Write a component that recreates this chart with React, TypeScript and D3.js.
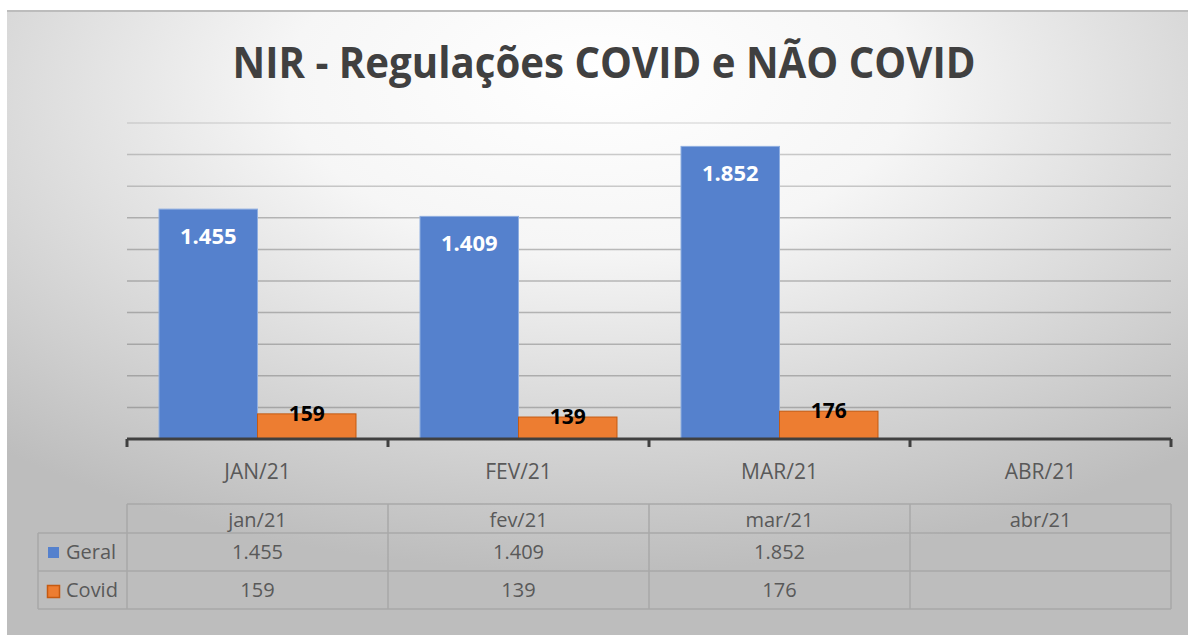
import React from "react";
import * as d3 from "d3";

const categories = ["JAN/21", "FEV/21", "MAR/21", "ABR/21"];
const tableHeaders = ["jan/21", "fev/21", "mar/21", "abr/21"];
const seriesNames = ["Geral", "Covid"];
const geralValues: (number | null)[] = [1455, 1409, 1852, null];
const covidValues: (number | null)[] = [159, 139, 176, null];
const yTicks = [200, 400, 600, 800, 1000, 1200, 1400, 1600, 1800, 2000];
const title = "NIR - Regulações COVID e NÃO COVID";

const colors: Record<string, string> = { Geral: "#5581CD", Covid: "#ED7D31" };
const strokes: Record<string, string> = { Geral: "#8FAEE0", Covid: "#C55A11" };

const fmt = (v: number | null) =>
  v == null ? "" : v >= 1000 ? d3.format(",")(v).replace(/,/g, ".") : String(v);

const FONT = "'Open Sans', 'DejaVu Sans', sans-serif";

export default function App() {
  const W = 1188;
  const H = 635;
  const left = 127;
  const right = 1171;
  const x = d3.scaleBand<string>().domain(categories).range([left, right]).paddingInner(0).paddingOuter(0);
  const xs = d3.scaleBand<string>().domain(seriesNames).range([0, x.bandwidth()]).paddingInner(0).paddingOuter(0.325);
  const y = d3.scaleLinear().domain([0, 2000]).range([439, 123]);
  const series: Record<string, (number | null)[]> = { Geral: geralValues, Covid: covidValues };

  const tTop = 504;
  const tHead = 533;
  const tRow1 = 571;
  const tRow2 = 609;
  const legendLeft = 38;
  const borderColor = "#A9A9A9";
  const textColor = "#595959";

  const boundaries = [...categories.map((c) => x(c) as number), right];

  return (
    <svg width={W} height={H} style={{ position: "fixed", left: 0, top: 0 }} fontFamily={FONT}>
      <defs>
        <radialGradient id="bg" cx="0.5" cy="0.15" r="0.75" fx="0.5" fy="0.1">
          <stop offset="0" stopColor="#ffffff" />
          <stop offset="0.35" stopColor="#f6f6f6" />
          <stop offset="1" stopColor="#bdbdbd" />
        </radialGradient>
      </defs>
      <rect x={0} y={0} width={W} height={H} fill="#ffffff" />
      <rect x={7} y={10} width={W - 7} height={H - 10} fill="url(#bg)" />
      <line x1={7} x2={W} y1={11} y2={11} stroke="#bcbcbc" strokeWidth={2} />

      <text
        x={(left + right) / 2 - 45}
        y={78}
        textAnchor="middle"
        fontSize={43}
        fontWeight={700}
        fill="#404040"
        textLength={743}
        lengthAdjust="spacingAndGlyphs"
      >
        {title}
      </text>

      {yTicks.map((t) => (
        <line
          key={t}
          x1={left}
          x2={right}
          y1={y(t)}
          y2={y(t)}
          stroke="#6f6f6f"
          strokeOpacity={t === 2000 ? 0.2 : t >= 1600 ? 0.35 : 0.45}
          strokeWidth={1.5}
        />
      ))}

      {categories.map((c, i) =>
        seriesNames.map((s) => {
          const v = series[s][i];
          if (v == null) return null;
          const bx = (x(c) as number) + (xs(s) as number);
          const bw = xs.bandwidth();
          return (
            <g key={c + s}>
              <rect
                x={bx}
                y={y(v)}
                width={bw}
                height={y(0) - y(v)}
                fill={colors[s]}
                stroke={strokes[s]}
                strokeWidth={1}
              />
              {s === "Geral" ? (
                <text x={bx + bw / 2} y={y(v) + 35} textAnchor="middle" fontSize={22} fontWeight={700} fill="#ffffff">
                  {fmt(v)}
                </text>
              ) : (
                <text x={bx + bw / 2} y={y(v) + 7} textAnchor="middle" fontSize={21} fontWeight={700} fill="#000000">
                  {fmt(v)}
                </text>
              )}
            </g>
          );
        })
      )}

      <line x1={left} x2={right} y1={y(0)} y2={y(0)} stroke="#404040" strokeWidth={3} />
      {boundaries.map((bx, i) => (
        <line key={i} x1={bx} x2={bx} y1={y(0)} y2={y(0) + 8} stroke="#404040" strokeWidth={3} />
      ))}

      {categories.map((c) => (
        <text
          key={c}
          x={(x(c) as number) + x.bandwidth() / 2}
          y={479}
          textAnchor="middle"
          fontSize={21}
          fill={textColor}
        >
          {c}
        </text>
      ))}

      {/* data table */}
      <g fill="none" stroke={borderColor} strokeWidth={1.5}>
        <line x1={left} x2={right} y1={tTop} y2={tTop} />
        <line x1={legendLeft} x2={right} y1={tHead} y2={tHead} />
        <line x1={legendLeft} x2={right} y1={tRow1} y2={tRow1} />
        <line x1={legendLeft} x2={right} y1={tRow2} y2={tRow2} />
        <line x1={legendLeft} x2={legendLeft} y1={tHead} y2={tRow2} />
        {boundaries.map((bx, i) => (
          <line key={i} x1={bx} x2={bx} y1={tTop} y2={tRow2} />
        ))}
      </g>
      {tableHeaders.map((h, i) => (
        <text
          key={h}
          x={(x(categories[i]) as number) + x.bandwidth() / 2}
          y={527}
          textAnchor="middle"
          fontSize={20}
          fill={textColor}
        >
          {h}
        </text>
      ))}
      {seriesNames.map((s, r) => {
        const baseY = r === 0 ? 559 : 597;
        return (
          <g key={s}>
            <rect
              x={r === 0 ? 48 : 47.5}
              y={r === 0 ? 547 : 585.5}
              width={r === 0 ? 11 : 12}
              height={r === 0 ? 11 : 12}
              fill={colors[s]}
              stroke={r === 0 ? "none" : strokes[s]}
              strokeWidth={1.5}
            />
            <text x={66} y={baseY} fontSize={20} fill={textColor}>
              {s}
            </text>
            {categories.map((c, i) => (
              <text
                key={c}
                x={(x(c) as number) + x.bandwidth() / 2}
                y={baseY}
                textAnchor="middle"
                fontSize={20}
                fill={textColor}
              >
                {fmt(series[s][i])}
              </text>
            ))}
          </g>
        );
      })}
    </svg>
  );
}
